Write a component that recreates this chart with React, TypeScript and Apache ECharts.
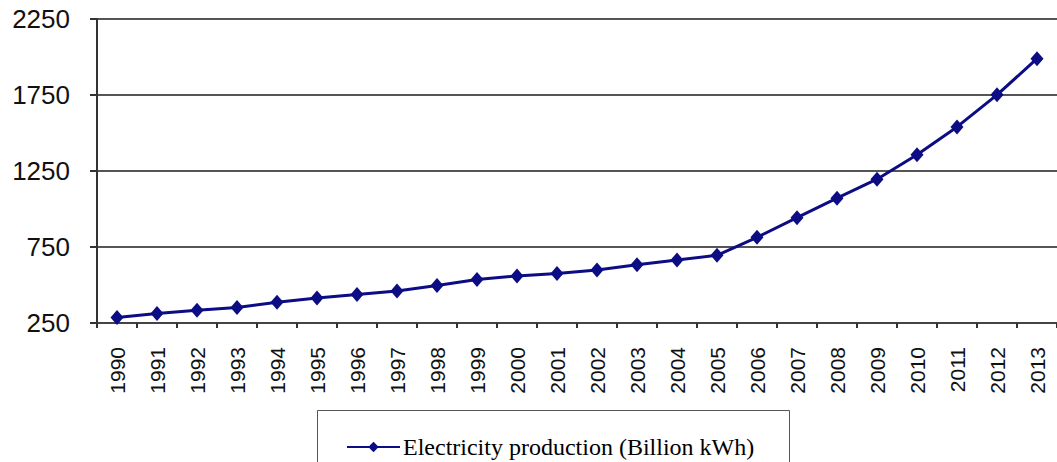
import React, { useEffect, useRef } from "react";
import * as echarts from "echarts";

const years = [
  "1990", "1991", "1992", "1993", "1994", "1995", "1996", "1997", "1998", "1999",
  "2000", "2001", "2002", "2003", "2004", "2005", "2006", "2007", "2008", "2009",
  "2010", "2011", "2012", "2013",
];
const production = [
  286, 312, 334, 352, 387, 415, 437, 461, 497, 536,
  560, 576, 598, 633, 664, 695, 814, 943, 1071, 1196,
  1357, 1540, 1751, 1989,
];
const seriesName = "Electricity production (Billion kWh)";
const yMin = 250;
const yMax = 2250;
const yStep = 500;

export default function App() {
  const ref = useRef<HTMLDivElement>(null);
  useEffect(() => {
    if (!ref.current) return;
    const chart = echarts.init(ref.current, null, { renderer: "svg" });
    chart.setOption({
      animation: false,
      backgroundColor: "#ffffff",
      grid: { left: 97, right: -15, top: 19, bottom: 139, containLabel: false },
      legend: {
        data: [seriesName],
        left: 346,
        top: 435,
        padding: 0,
        itemWidth: 53,
        itemHeight: 13,
        itemGap: 4,
        textStyle: {
          fontFamily: "Liberation Serif",
          fontSize: 24,
          fontWeight: "normal",
          color: "#000",
          padding: [0, 0, 0, -2],
        },
      },
      graphic: [
        {
          type: "rect",
          left: 315,
          top: 408,
          shape: { width: 472, height: 70 },
          style: { fill: "none", stroke: "#555", lineWidth: 1 },
          z: -1,
        },
      ],
      xAxis: {
        type: "category",
        data: years,
        boundaryGap: true,
        axisLine: { show: true, lineStyle: { color: "#444", width: 2 } },
        axisTick: { show: true, interval: 0, length: 5, lineStyle: { color: "#333", width: 2 } },
        axisLabel: {
          interval: 0,
          rotate: 90,
          margin: 24,
          fontFamily: "Liberation Sans",
          fontSize: 21,
          color: "#111",
        },
        splitLine: { show: false },
      },
      yAxis: {
        type: "value",
        min: yMin,
        max: yMax,
        interval: yStep,
        axisLine: { show: true, lineStyle: { color: "#333", width: 2 } },
        axisTick: { show: true, length: 7, lineStyle: { color: "#333", width: 2 } },
        axisLabel: {
          margin: 27,
          fontFamily: "Liberation Sans",
          fontSize: 26,
          color: "#111",
          formatter: (v: number) => String(v),
        },
        splitLine: { show: true, lineStyle: { color: "#555", width: 2 } },
      },
      series: [
        {
          name: seriesName,
          type: "line",
          data: production,
          symbol: "diamond",
          symbolSize: [13, 15],
          lineStyle: { color: "#0c0c84", width: 3 },
          itemStyle: { color: "#0c0c84" },
        },
      ],
    });
    return () => chart.dispose();
  }, []);
  return (
    <div
      ref={ref}
      style={{ position: "fixed", left: 0, top: 0, width: 1057, height: 462, background: "#fff" }}
    />
  );
}
